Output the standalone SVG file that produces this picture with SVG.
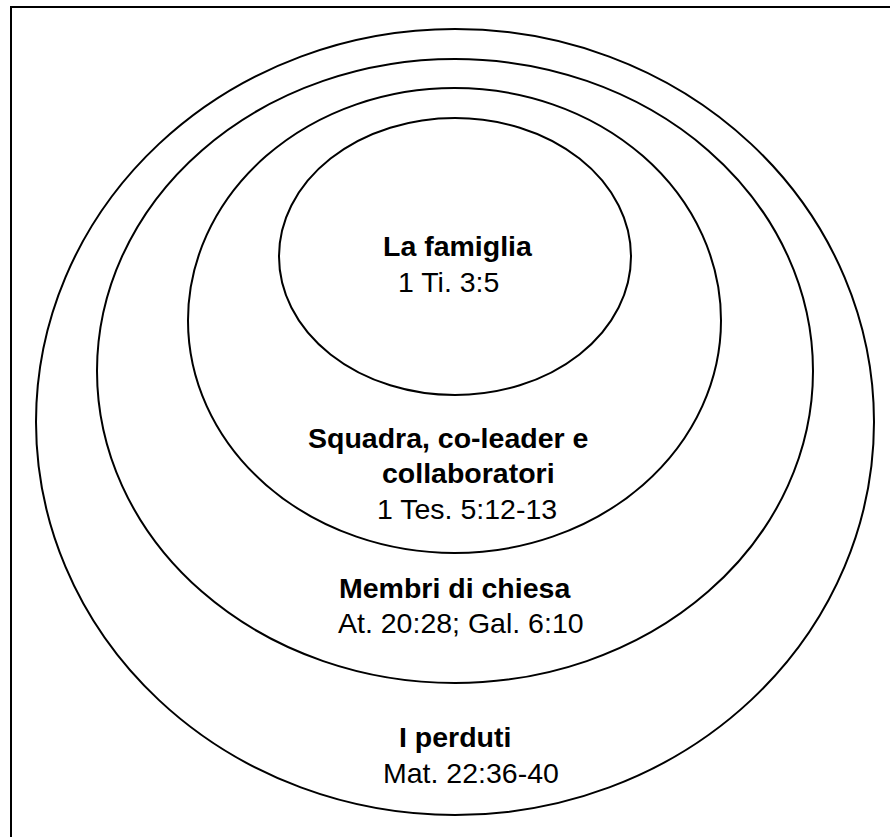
<svg xmlns="http://www.w3.org/2000/svg" width="890" height="837" viewBox="0 0 890 837">
  <style>
    .ring { fill: none; stroke: #000; stroke-width: 2; }
    .frame { fill: none; stroke: #000; stroke-width: 2; }
    .title { font-family: "Liberation Sans", Arial, sans-serif; font-size: 28.5px; font-weight: bold; fill: #000; }
    .ref { font-family: "Liberation Sans", Arial, sans-serif; font-size: 28.5px; fill: #000; }
  </style>
  <rect width="890" height="837" fill="#fff"/>
  <!-- page frame (runs off the right and bottom edges) -->
  <path class="frame" d="M11,840 V7 H892"/>

  <!-- concentric circles of responsibility, outermost first -->
  <g id="ring-perduti">
    <ellipse class="ring" cx="455" cy="422" rx="419" ry="393"/>
    <text class="title" x="399" y="747">I perduti</text>
    <text class="ref" x="383" y="783">Mat. 22:36-40</text>
  </g>
  <g id="ring-membri">
    <ellipse class="ring" cx="455" cy="371" rx="358" ry="312"/>
    <text class="title" x="339" y="598">Membri di chiesa</text>
    <text class="ref" x="338" y="633">At. 20:28; Gal. 6:10</text>
  </g>
  <g id="ring-squadra">
    <ellipse class="ring" cx="454.5" cy="320.5" rx="266.5" ry="232.5"/>
    <text class="title" x="308" y="448">Squadra, co-leader e</text>
    <text class="title" x="382" y="483">collaboratori</text>
    <text class="ref" x="377" y="519">1 Tes. 5:12-13</text>
  </g>
  <g id="ring-famiglia">
    <ellipse class="ring" cx="455" cy="256.5" rx="176" ry="138.5"/>
    <text class="title" x="383" y="256">La famiglia</text>
    <text class="ref" x="398" y="292">1 Ti. 3:5</text>
  </g>

  <g id="connectors"/>
</svg>
